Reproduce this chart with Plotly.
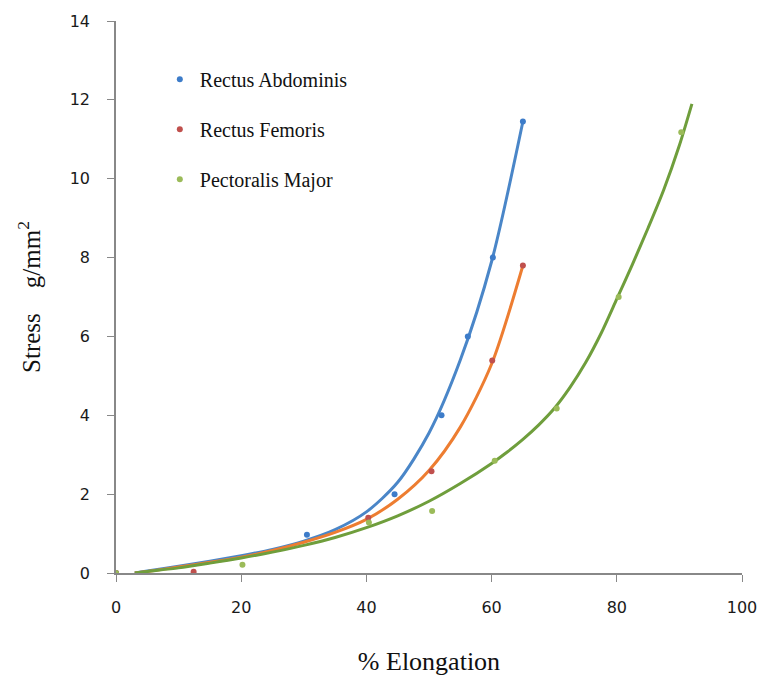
import plotly.graph_objects as go

# Measured data points
ra_x = [0, 30.5, 44.5, 52, 56.2, 60.2, 65]
ra_y = [0, 0.97, 2.0, 4.0, 6.0, 8.0, 11.45]
rf_x = [0, 12.4, 40.3, 50.4, 60.1, 65]
rf_y = [0, 0.03, 1.40, 2.58, 5.39, 7.8]
pm_x = [0, 20.2, 40.4, 50.5, 60.5, 70.4, 80.3, 90.3]
pm_y = [0, 0.21, 1.28, 1.57, 2.85, 4.17, 7.0, 11.18]

# Trend curves
ra_tx = [3, 5, 10, 15, 20, 25, 30, 35, 40, 45, 50, 55, 60, 65]
ra_ty = [0, 0.05, 0.17, 0.3, 0.44, 0.6, 0.81, 1.1, 1.55, 2.3, 3.55, 5.4, 7.9, 11.45]
rf_tx = [3, 5, 10, 15, 20, 25, 30, 35, 40, 45, 50, 55, 60, 65]
rf_ty = [0, 0.04, 0.15, 0.27, 0.4, 0.57, 0.78, 1.03, 1.36, 1.87, 2.6, 3.7, 5.3, 7.8]
pm_tx = [3, 5, 10, 15, 20, 25, 30, 35, 40, 45, 50, 55, 60, 62.5, 65, 67.5, 70,
         72.5, 75, 77.5, 80, 82.5, 85, 87.5, 90, 92]
pm_ty = [0, 0.04, 0.13, 0.25, 0.38, 0.53, 0.7, 0.9, 1.15, 1.45, 1.82, 2.27, 2.78, 3.07,
         3.39, 3.75, 4.17, 4.7, 5.33, 6.08, 6.95, 7.83, 8.75, 9.72, 10.85, 11.9]

names = ["Rectus Abdominis", "Rectus Femoris", "Pectoralis Major"]
line_colors = ["#4a86c8", "#ed7d31", "#6f9e3c"]
marker_colors = ["#3d7cc9", "#c0504d", "#9bbb59"]

fig = go.Figure()
trends = [(ra_tx, ra_ty), (rf_tx, rf_ty), (pm_tx, pm_ty)]
pts = [(ra_x, ra_y), (rf_x, rf_y), (pm_x, pm_y)]
for i in range(3):
    fig.add_trace(go.Scatter(x=trends[i][0], y=trends[i][1], mode="lines",
                             line=dict(color=line_colors[i], width=3, shape="spline", smoothing=0.8),
                             showlegend=False, hoverinfo="skip"))
for i in range(3):
    fig.add_trace(go.Scatter(x=pts[i][0], y=pts[i][1], mode="markers", name=names[i],
                             legendgroup=f"g{i}",
                             marker=dict(color=marker_colors[i], size=6)))

fig.update_layout(
    width=769, height=683,
    margin=dict(l=116, r=25, t=18, b=109),
    paper_bgcolor="white", plot_bgcolor="white",
    legend=dict(x=0.07, y=0.93, xanchor="left", yanchor="top",
                font=dict(family="Liberation Serif", size=20, color="#111"),
                tracegroupgap=21, traceorder="grouped", bgcolor="rgba(0,0,0,0)",
                itemwidth=30),
    xaxis=dict(range=[0, 100], tickvals=[0, 20, 40, 60, 80, 100],
               showgrid=False, zeroline=False, showline=True, linecolor="#888888", linewidth=1.5,
               ticks="outside", ticklen=7, tickcolor="#888888",
               tickfont=dict(family="DejaVu Sans", size=16, color="#1a1a1a"),
               ticklabelstandoff=12,
               title=dict(text="% Elongation", font=dict(family="Liberation Serif", size=26, color="#111"),
                          standoff=36)),
    yaxis=dict(range=[0, 14], tickvals=[0, 2, 4, 6, 8, 10, 12, 14],
               showgrid=False, zeroline=False, showline=True, linecolor="#888888", linewidth=1.5,
               ticks="outside", ticklen=7, tickcolor="#888888",
               tickfont=dict(family="DejaVu Sans", size=16, color="#1a1a1a"),
               ticklabelstandoff=14,
               title=dict(text="Stress\u00a0\u00a0\u00a0\u00a0g/mm<sup>2</sup>",
                          font=dict(family="Liberation Serif", size=25, color="#111"),
                          standoff=22)),
)

fig.write_html("out.html")
